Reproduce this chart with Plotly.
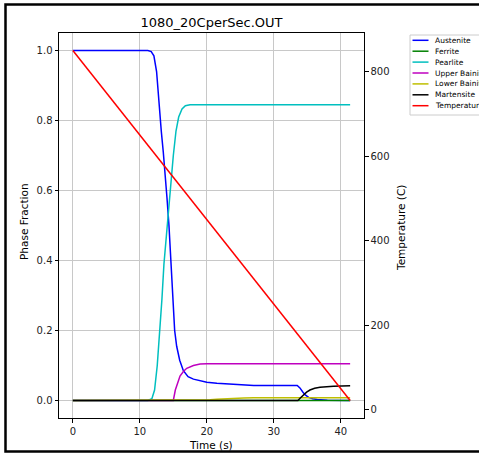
import plotly.graph_objects as go

# ---------------- data ----------------
title = "1080_20CperSec.OUT"

aust_t = [0, 11.2, 11.7, 12.1, 12.5, 12.85, 13.2, 13.5, 13.75, 14.05, 14.35, 14.6, 14.9, 15.2,
          15.5, 15.95, 16.5, 17.2, 18.0, 19.0, 20.0, 21.5, 23.0, 25.0, 27.0, 33.5, 33.9, 34.3,
          34.7, 35.2, 35.8, 36.5, 38.0, 41.4]
aust_v = [1.0, 1.0, 0.997, 0.985, 0.94, 0.84, 0.77, 0.71, 0.66, 0.58, 0.5, 0.4, 0.3, 0.2,
          0.155, 0.115, 0.085, 0.068, 0.061, 0.056, 0.052, 0.049, 0.047, 0.045, 0.043, 0.043, 0.036, 0.025,
          0.016, 0.009, 0.005, 0.003, 0.001, 0.0]

ferr_t = [0, 41.4]
ferr_v = [0.0, 0.0]

pear_t = [0, 11.2, 11.8, 12.2, 12.6, 13.0, 13.3, 13.6, 14.0, 14.3, 14.6, 15.0, 15.4, 15.8,
          16.3, 16.8, 17.5, 41.4]
pear_v = [0.0, 0.0, 0.005, 0.03, 0.1, 0.2, 0.29, 0.39, 0.48, 0.55, 0.62, 0.7, 0.77, 0.81,
          0.833, 0.842, 0.845, 0.845]

ubain_t = [0, 15.0, 15.3, 15.6, 16.0, 16.5, 17.0, 18.0, 19.0, 20.0, 41.4]
ubain_v = [0.0, 0.0, 0.03, 0.05, 0.07, 0.083, 0.092, 0.1, 0.104, 0.105, 0.105]

lbain_t = [0, 19.5, 20.5, 21.5, 22.5, 24.0, 25.5, 27.0, 41.4]
lbain_v = [0.0, 0.0, 0.002, 0.0035, 0.005, 0.0065, 0.0075, 0.008, 0.008]

mart_t = [0, 33.6, 34.0, 34.4, 34.9, 35.4, 36.1, 36.9, 37.9, 38.9, 41.4]
mart_v = [0.0, 0.0, 0.008, 0.016, 0.024, 0.03, 0.035, 0.038, 0.040, 0.041, 0.042]

temp_t = [0, 41.4]
temp_v = [850, 22]

names = ["Austenite", "Ferrite", "Pearlite", "Upper Bainite", "Lower Bainite", "Martensite", "Temperature"]
colors = ["#0000ff", "#008000", "#00bfbf", "#bf00bf", "#bfbf00", "#000000", "#ff0000"]
series_t = [aust_t, ferr_t, pear_t, ubain_t, lbain_t, mart_t]
series_v = [aust_v, ferr_v, pear_v, ubain_v, lbain_v, mart_v]

x_ticks = [0, 10, 20, 30, 40]
y_ticks = [0.0, 0.2, 0.4, 0.6, 0.8, 1.0]
y2_ticks = [0, 200, 400, 600, 800]

# ---------------- layout geometry ----------------
W, H = 479, 453
L, R, T, B = 59, 364, 33, 418
FONT = "DejaVu Sans"


def px(xp):
    return (xp - L) / (R - L)


def py(yp):
    return (B - yp) / (B - T)


fig = go.Figure()
for n, c, t, v in zip(names[:6], colors[:6], series_t, series_v):
    fig.add_trace(go.Scatter(x=t, y=v, name=n, mode="lines",
                             line=dict(color=c, width=1.5), showlegend=False))
fig.add_trace(go.Scatter(x=temp_t, y=temp_v, name=names[6], mode="lines", yaxis="y2",
                         line=dict(color=colors[6], width=1.5), showlegend=False))

axis_common = dict(showline=True, linecolor="black", linewidth=1, ticks="outside",
                   ticklen=3.5, tickcolor="black", tickwidth=1, zeroline=False,
                   tickfont=dict(family=FONT, size=10, color="#222"))

fig.update_layout(
    width=W, height=H,
    margin=dict(l=L, r=W - R, t=T, b=H - B, pad=0),
    paper_bgcolor="white", plot_bgcolor="white",
    font=dict(family=FONT, color="black"),
    title=dict(text=title, x=px(211.5), xref="paper", xanchor="center",
               y=1 - 22 / H, yref="container", yanchor="middle",
               font=dict(family=FONT, size=13, color="black")),
    xaxis=dict(range=[-2.07, 43.47], tickvals=x_ticks, showgrid=True,
               gridcolor="#c8c8c8", gridwidth=1, mirror=True, **axis_common),
    yaxis=dict(range=[-0.05, 1.05], tickvals=y_ticks, tickformat=".1f", showgrid=True,
               gridcolor="#c8c8c8", gridwidth=1, mirror=True, **axis_common),
    yaxis2=dict(range=[-19.4, 891.4], tickvals=y2_ticks, overlaying="y", side="right",
                showgrid=False, **axis_common),
    showlegend=False,
)

annotations = [
    dict(text="Time (s)", x=px(211), y=py(445), xref="paper", yref="paper",
         showarrow=False, xanchor="center", yanchor="middle",
         font=dict(family=FONT, size=10.5, color="black")),
    dict(text="Phase Fraction", x=px(24), y=py(222), xref="paper", yref="paper",
         showarrow=False, textangle=-90, xanchor="center", yanchor="middle",
         font=dict(family=FONT, size=10.5, color="black")),
    dict(text="Temperature (C)", x=px(401), y=py(228), xref="paper", yref="paper",
         showarrow=False, textangle=-90, xanchor="center", yanchor="middle",
         font=dict(family=FONT, size=10.5, color="black")),
]

shapes = [
    # outer black frame
    dict(type="rect", xref="paper", yref="paper", x0=px(5.5), x1=px(495),
         y0=py(451.5), y1=py(4.5), line=dict(color="black", width=2.5),
         fillcolor="rgba(0,0,0,0)", layer="above"),
    # legend box
    dict(type="rect", xref="paper", yref="paper", x0=px(410), x1=px(495),
         y0=py(115), y1=py(35), line=dict(color="#cccccc", width=1),
         fillcolor="white", layer="above"),
]

leg_y0, leg_dy = 40.3, 10.9
for i, (n, c) in enumerate(zip(names, colors)):
    yy = leg_y0 + i * leg_dy
    shapes.append(dict(type="line", xref="paper", yref="paper", x0=px(412.5), x1=px(428.5),
                       y0=py(yy), y1=py(yy), line=dict(color=c, width=1.5), layer="above"))
    annotations.append(dict(text=n, x=px(433), y=py(yy), xref="paper", yref="paper",
                            showarrow=False, xanchor="left", yanchor="middle",
                            font=dict(family=FONT, size=7.5, color="black")))

fig.update_layout(annotations=annotations, shapes=shapes)

fig.write_html("out.html")
